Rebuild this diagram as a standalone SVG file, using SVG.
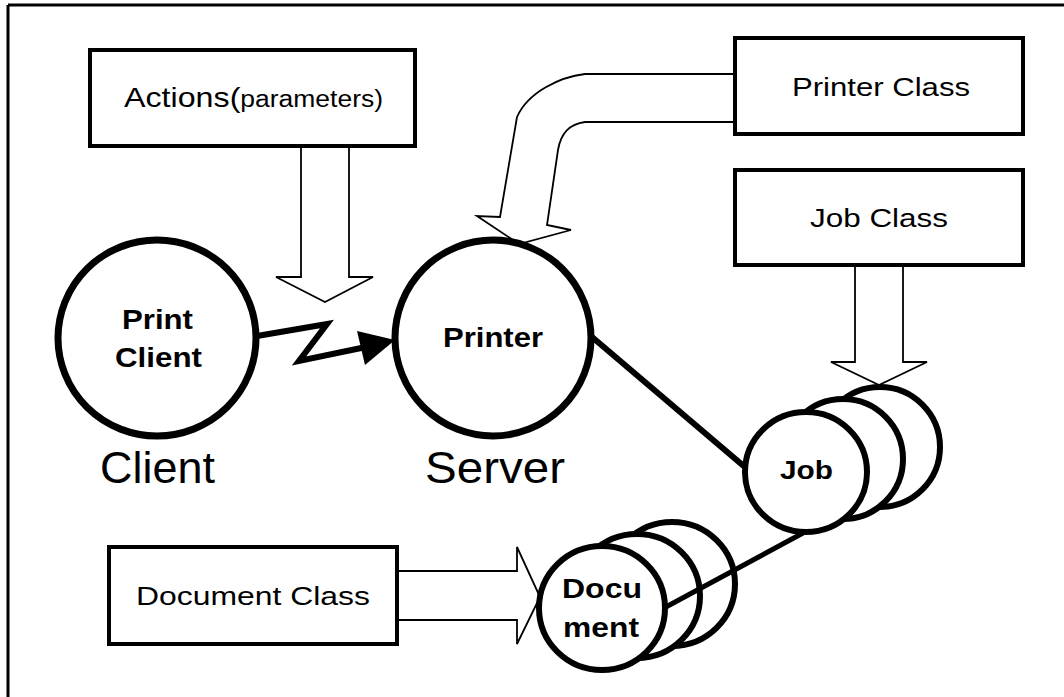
<svg xmlns="http://www.w3.org/2000/svg" width="1064" height="697" viewBox="0 0 1064 697">
<defs>
<style>
text{font-family:"Liberation Sans",Arial,Helvetica,sans-serif;fill:#000}
.box{fill:#fff;stroke:#000;stroke-width:4}
.node{fill:#fff;stroke:#000;stroke-width:7}
.cyl{fill:#fff;stroke:#000;stroke-width:6}
.hollow{fill:none;stroke:#000;stroke-width:1.8;stroke-linejoin:miter}
.thick{fill:none;stroke:#000;stroke-width:6;stroke-linejoin:miter}
.lbl{font-size:26px}
.bold{font-size:28px;font-weight:bold}
.big{font-size:45px}
</style>
</defs>
<rect x="0" y="0" width="1064" height="697" fill="#fff"/>
<g id="frame" fill="none" stroke="#000" stroke-width="3">
<line x1="8" y1="5" x2="1064" y2="5"/>
<line x1="8" y1="5" x2="8" y2="697"/>
</g>

<g id="actions">
<rect class="box" x="90" y="50" width="325" height="96"/>
<text x="124" y="107" textLength="259" lengthAdjust="spacingAndGlyphs"><tspan font-size="28">Actions(</tspan><tspan font-size="23">parameters)</tspan></text>
</g>

<g id="printer-class">
<rect class="box" x="735" y="38" width="288" height="96"/>
<text class="lbl" x="792" y="96" textLength="178" lengthAdjust="spacingAndGlyphs">Printer Class</text>
</g>

<g id="job-class">
<rect class="box" x="735" y="170" width="288" height="95"/>
<text class="lbl" x="810" y="227" textLength="138" lengthAdjust="spacingAndGlyphs">Job Class</text>
</g>

<g id="document-class">
<rect class="box" x="109" y="547" width="288" height="97"/>
<text class="lbl" x="136" y="605" textLength="234" lengthAdjust="spacingAndGlyphs">Document Class</text>
</g>

<g id="print-client">
<ellipse class="node" cx="157" cy="338" rx="99" ry="98"/>
<text class="bold" x="122" y="329" textLength="71" lengthAdjust="spacingAndGlyphs">Print</text>
<text class="bold" x="115" y="367" textLength="87" lengthAdjust="spacingAndGlyphs">Client</text>
</g>

<g id="printer">
<ellipse class="node" cx="493" cy="338" rx="98" ry="98"/>
<text class="bold" x="443" y="347" textLength="100" lengthAdjust="spacingAndGlyphs">Printer</text>
</g>

<g id="client-label">
<text class="big" x="100" y="483" textLength="115" lengthAdjust="spacingAndGlyphs">Client</text>
</g>
<g id="server-label">
<text class="big" x="425" y="483" textLength="140" lengthAdjust="spacingAndGlyphs">Server</text>
</g>

<g id="job">
<ellipse class="cyl" cx="880" cy="447" rx="60" ry="60"/>
<ellipse class="cyl" cx="843" cy="459" rx="60" ry="60"/>
<ellipse class="cyl" cx="806" cy="472" rx="61" ry="60"/>
<text class="bold" x="780" y="479" font-size="26" textLength="53" lengthAdjust="spacingAndGlyphs" style="font-size:26px">Job</text>
</g>

<g id="document">
<ellipse class="cyl" cx="672" cy="584" rx="63" ry="62"/>
<ellipse class="cyl" cx="637" cy="596" rx="63" ry="62"/>
</g>

<g id="connectors">
<path class="hollow" d="M301,146 L301,277 L276,277 L325,302 L373,277 L349,277 L349,146"/>
<path class="hollow" d="M735,74 L585,74 C560,77 528,92 517,117 L500,217 L477,216 L519,244 L571,230 L547,225 L558,150 C561,132 570,124 585,122 L735,122"/>
<path class="hollow" d="M855,265 L855,362 L831,362 L879,385 L927,362 L903,362 L903,265"/>
<path class="hollow" d="M397,571 L517,571 L517,547 L540,597 L517,644 L517,620 L397,620"/>
<polyline class="thick" points="257,336 327,324 299,361 366,347"/>
<polygon fill="#000" points="395,340 357,331 365,365"/>
<line x1="592" y1="337" x2="746" y2="468" stroke="#000" stroke-width="6"/>
<line x1="803" y1="533" x2="664" y2="608" stroke="#000" stroke-width="5"/>
</g>

<g id="document-front">
<ellipse class="cyl" cx="602" cy="608" rx="63" ry="62"/>
<text class="bold" x="562" y="598" textLength="80" lengthAdjust="spacingAndGlyphs">Docu</text>
<text class="bold" x="563" y="637" textLength="76" lengthAdjust="spacingAndGlyphs">ment</text>
</g>
</svg>
